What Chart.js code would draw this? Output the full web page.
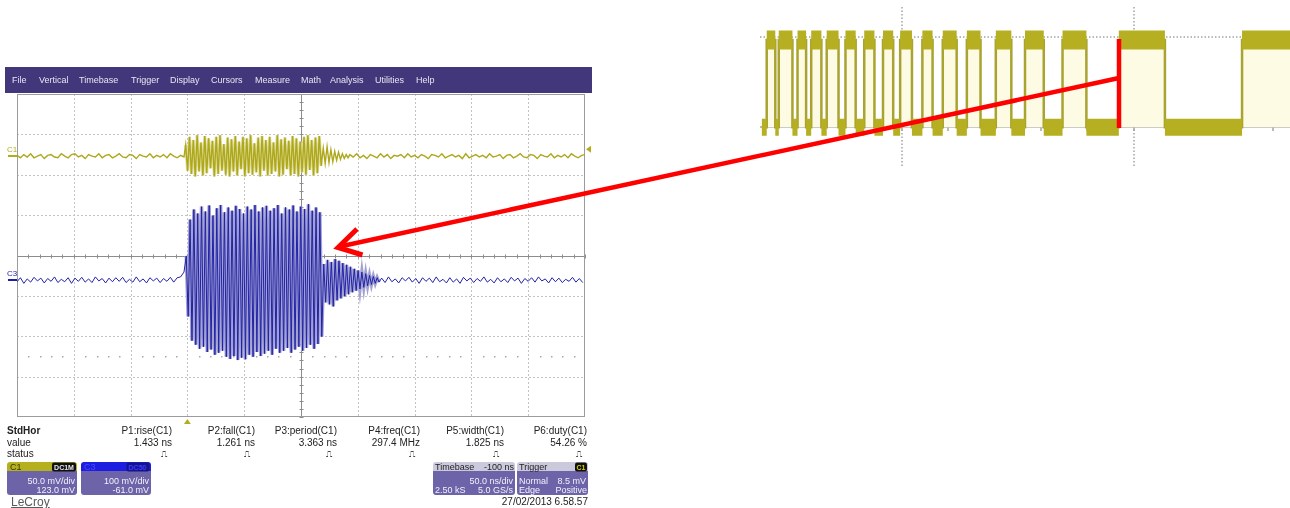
<!DOCTYPE html>
<html>
<head>
<meta charset="utf-8">
<script src="https://cdn.jsdelivr.net/npm/chart.js@4.4.1/dist/chart.umd.min.js"></script>
<style>
body { margin: 0; width: 1290px; height: 508px; background: #fff; position: relative; overflow: hidden;
       font-family: "Liberation Sans", Arial, sans-serif; }
#menu { position: absolute; left: 5px; top: 67px; width: 587px; height: 26px; background: #41377a; }
#scope { position: absolute; left: 5px; top: 90px; }
#zoomview { position: absolute; left: 760px; top: 0px; }
.box { position: absolute; border-radius: 3px; overflow: hidden; }
.hdr { position: absolute; left: 0; top: 0; right: 0; height: 9px; }
.body { position: absolute; left: 0; top: 9px; right: 0; bottom: 0; background: #6c63a8; }
#arrow { position: absolute; left: 0; top: 0; }
</style>
</head>
<body>
<div id="menu"></div>
<canvas id="scope" width="587" height="336"></canvas>
<canvas id="zoomview" width="530" height="170"></canvas>
<svg id="arrow" width="1290" height="508"></svg>
<script>
// ---- scope settings (from the readout) ----
const C1_SCALE = 50, C1_OFFSET = 123;    // mV/div, mV
const C3_SCALE = 100, C3_OFFSET = -61;   // mV/div, mV
const TRIG_LEVEL = 8.5;                  // mV on C1
const T_MIN = -150, T_MAX = 350, T_DIV = 50;   // ns
const NOISE_DT = 3, BURST_DT = 1.68;           // ns between samples

// C1 (yellow) in mV
const c1Pre = [1,-2,2,-1,3,-2,0,2,-3,1, 2,-1,-2,3,0,-2,2,3,-1,1, -3,2,0,-1,3,-2,1,2,-2,0,
  3,-1,-2,2,1,-3,2,0,-1,3, -2,1,-1,2,-2,3,0,-2,1,-1];
const c1Burst = [14,-18,24,-22,20,-25,26,-19,17,-24, 25,-21,22,-15,19,-25,24,-22,26,-18,
  15,-23,23,-25,21,-19,25,-24,18,-16, 24,-25,22,-21,26,-23,16,-20,23,-25,
  25,-18,20,-24,24,-22,17,-19,26,-25, 21,-23,23,-16,19,-24,25,-22,22,-25,
  18,-20,24,-23,26,-17,20,-24,23,-21, 25,-12];
const c1Tail = [10,-9,12,-8,8,-7,6,-5,5,-4,3,-3,2,-2];
const c1Post = [2,-1,3,-2,1,-3,2,0,-2,3, -1,2,-3,1,0,2,-2,3,-1,1, -2,2,0,-3,2,1,-1,3,-2,0,
  2,-1,1,-3,3,-2,0,2,-1,1, -2,3,-1,0,2,-3,1,2,-2,0, 3,-1,-2,2,1,-3,2,0,-1,3,
  -2,1,-1,2,-2,3,0,-2,1,2];

// C3 (blue) in mV
const c3Pre = [-4,6,-8,3,-5,7,-2,5,-7,4, -3,8,-6,2,-4,6,-8,5,-3,7, -5,3,-6,8,-2,4,-7,5,-4,6,
  -3,7,-6,2,-5,8,-4,3,-7,6, -2,5,-6,4,-3,7,-5,6,8,20];
const c3Burst = [60,-90,150,-150,175,-160,165,-170,182,-165, 170,-178,185,-172,160,-185,178,-180,186,-175,
  168,-190,180,-195,172,-188,184,-198,176,-192, 165,-196,182,-185,175,-190,186,-178,170,-188,
  180,-182,184,-175,172,-185,178,-170,186,-180, 165,-175,180,-168,175,-180,185,-172,170,-165,
  182,-175,176,-168,188,-160,172,-170,180,-158, 168,-140];
const c3Ring = [40,-55,50,-60,45,-65,52,-50,48,-45, 42,-40,38,-35,33,-30,28,-26,24,-22,
  20,-18,16,-14,12,-11,9,-8,6,-5];
const c3Post = [5,-6,8,-4,3,-7,6,-2,7,-5, 4,-8,6,-3,5,-6,8,-4,2,-7, 6,-5,3,-8,7,-2,5,-6,4,-3,
  8,-5,2,-7,6,-4,3,-6,7,-2, 5,-8,4,-3,6,-5,8,-2,3,-7, 6,-4,5,-6,2,-3,7,-5,4,-6];

// zoomed inset: edge times (ns) of the digital C1 view, first edge is rising
const zoomEdges = [-5.84,-5.47,-5.32,-4.73,-4.51,-4.14,-3.92,-3.48,-3.25,-2.74,-2.44,-2.00,
  -1.63,-1.19,-0.82,-0.38,-0.08,0.43,0.88,1.32,1.76,2.36,2.80,3.39,4.05,4.72,5.31,6.12,
  6.93,7.96,9.36,11.35,14.68];
const ZOOM_MIN = -6.13, ZOOM_MAX = 16.75, ZOOM_START = -6.05;

// readout texts
const menuItems = ['File','Vertical','Timebase','Trigger','Display','Cursors','Measure','Math','Analysis','Utilities','Help'];
const menuX = [12,39,79,131,170,211,255,301,330,375,416];
const measNames = ['P1:rise(C1)','P2:fall(C1)','P3:period(C1)','P4:freq(C1)','P5:width(C1)','P6:duty(C1)'];
const measValues = ['1.433 ns','1.261 ns','3.363 ns','297.4 MHz','1.825 ns','54.26 %'];
const measRight = [172,255,337,420,504,587];

function put(text, x, y, o = {}) {
  const d = document.createElement('div');
  d.textContent = text;
  const tx = o.align === 'right' ? '-100%' : o.align === 'center' ? '-50%' : '0';
  d.style.cssText = `position:absolute;left:${x}px;top:${y}px;font-size:${o.size || 10}px;line-height:1;` +
    `white-space:nowrap;color:${o.color || '#222'};font-weight:${o.bold ? 'bold' : 'normal'};` +
    `transform:translate(${tx},-50%);` + (o.css || '');
  document.body.appendChild(d);
  return d;
}

// menu bar
menuItems.forEach((m, i) => put(m, menuX[i], 80, { size: 9, color: '#e8e6f2' }));

// measurement table
put('StdHor', 7, 431, { bold: true });
put('value', 7, 443);
put('status', 7, 453.5);
measNames.forEach((n, i) => {
  put(n, measRight[i], 431, { align: 'right' });
  put(measValues[i], measRight[i], 443, { align: 'right' });
  put('\u238D', measRight[i] - 8, 453.5, { align: 'center', size: 9, color: '#444' });
});

function box(left, width, hdrColor) {
  const b = document.createElement('div');
  b.className = 'box';
  b.style.cssText = `left:${left}px;top:462px;width:${width}px;height:33px;`;
  b.innerHTML = `<div class="hdr" style="background:${hdrColor}"></div><div class="body"></div>`;
  document.body.appendChild(b);
}
function tag(text, left, width, bg, fg) {
  return put(text, left + width / 2, 466.5, { align: 'center', size: 7, bold: true, color: fg,
    css: `background:${bg};width:${width}px;text-align:center;border-radius:2px;padding:1px 0;` });
}
const BODY = '#f2f2fa';
// channel boxes
box(7, 70, '#b5b11e');
put('C1', 10, 466.5, { size: 9, color: '#3a3800' });
tag('DC1M', 52, 24, '#111', '#e8e8e8');
put('50.0 mV/div', 75, 480.5, { align: 'right', size: 9, color: BODY });
put('123.0 mV', 75, 489.5, { align: 'right', size: 9, color: BODY });

box(81, 70, '#1e1ee0');
put('C3', 84, 466.5, { size: 9, color: '#4a4aff' });
tag('DC50', 126, 23, '#14148a', '#3a3aff');
put('100 mV/div', 149, 480.5, { align: 'right', size: 9, color: BODY });
put('-61.0 mV', 149, 489.5, { align: 'right', size: 9, color: BODY });

box(433, 82, '#cbc9dc');
put('Timebase', 435, 466.5, { size: 9, color: '#222' });
put('-100 ns', 514, 466.5, { align: 'right', size: 9, color: '#222' });
put('50.0 ns/div', 513, 480.5, { align: 'right', size: 9, color: BODY });
put('2.50 kS', 435, 489.5, { size: 9, color: BODY });
put('5.0 GS/s', 513, 489.5, { align: 'right', size: 9, color: BODY });

box(517, 71, '#cbc9dc');
put('Trigger', 519, 466.5, { size: 9, color: '#222' });
tag('C1', 575, 12, '#111', '#d8d400');
put('Normal', 519, 480.5, { size: 9, color: BODY });
put('8.5 mV', 586, 480.5, { align: 'right', size: 9, color: BODY });
put('Edge', 519, 489.5, { size: 9, color: BODY });
put('Positive', 587, 489.5, { align: 'right', size: 9, color: BODY });

put('LeCroy', 11, 502, { size: 12, color: '#5a5a5a', css: 'text-decoration:underline;' });
put('27/02/2013 6.58.57', 588, 502, { align: 'right', size: 10 });

// ---- build traces ----
function seg(t0, dt, vals, off, sc) {
  return vals.map((v, i) => ({ x: t0 + i * dt, y: (v + off) / sc }));
}
const c1Points = [].concat(
  seg(T_MIN, NOISE_DT, c1Pre, C1_OFFSET, C1_SCALE),
  seg(-1.5, BURST_DT, c1Burst, C1_OFFSET, C1_SCALE),
  seg(119.6, BURST_DT, c1Tail, C1_OFFSET, C1_SCALE),
  seg(143, NOISE_DT, c1Post, C1_OFFSET, C1_SCALE));
const c3Points = [].concat(
  seg(T_MIN, NOISE_DT, c3Pre, C3_OFFSET, C3_SCALE),
  seg(-1, BURST_DT, c3Burst, C3_OFFSET, C3_SCALE),
  seg(120, BURST_DT, c3Ring, C3_OFFSET, C3_SCALE),
  seg(171, NOISE_DT, c3Post, C3_OFFSET, C3_SCALE));
const c1Glow = seg(-1.5, BURST_DT, c1Burst, C1_OFFSET, C1_SCALE);
const c3Glow = [].concat(seg(-1, BURST_DT, c3Burst, C3_OFFSET, C3_SCALE),
  seg(120, BURST_DT, c3Ring, C3_OFFSET, C3_SCALE));

function hline(ctx, x1, y1, x2, y2) { ctx.beginPath(); ctx.moveTo(x1, y1); ctx.lineTo(x2, y2); ctx.stroke(); }

const scopeGrid = {
  id: 'scopeGrid',
  beforeDatasetsDraw(chart) {
    const { ctx, chartArea: a, scales: { x, y } } = chart;
    const tc = (T_MIN + T_MAX) / 2;
    ctx.save();
    ctx.lineWidth = 1;
    ctx.strokeStyle = '#c4c4c4';
    ctx.setLineDash([2, 2]);
    for (let t = T_MIN + T_DIV; t < T_MAX; t += T_DIV) {
      if (t === tc) continue;
      const px = Math.round(x.getPixelForValue(t)) + 0.5;
      hline(ctx, px, a.top, px, a.bottom);
    }
    for (let d = -3; d <= 3; d++) {
      if (d === 0) continue;
      const py = Math.round(y.getPixelForValue(d)) + 0.5;
      hline(ctx, a.left, py, a.right, py);
    }
    ctx.setLineDash([]);
    // centre cross with minor ticks
    ctx.strokeStyle = '#8c8c8c';
    const cx = Math.round(x.getPixelForValue(tc)) + 0.5;
    const cy = Math.round(y.getPixelForValue(0)) + 0.5;
    hline(ctx, a.left, cy, a.right, cy);
    hline(ctx, cx, a.top, cx, a.bottom);
    for (let t = T_MIN; t <= T_MAX; t += T_DIV / 5) {
      const px = Math.round(x.getPixelForValue(t)) + 0.5;
      hline(ctx, px, cy - 2, px, cy + 2);
    }
    for (let i = -20; i <= 20; i++) {
      const py = Math.round(y.getPixelForValue(i / 5)) + 0.5;
      hline(ctx, cx - 2, py, cx + 2, py);
    }
    // dotted row at -2.5 div
    ctx.fillStyle = '#a8a8a8';
    const dy = Math.round(y.getPixelForValue(-2.5));
    for (let t = T_MIN; t <= T_MAX; t += T_DIV / 5) {
      if ((t - T_MIN) % T_DIV === 0) continue;
      ctx.fillRect(Math.round(x.getPixelForValue(t)), dy, 1.5, 1.5);
    }
    ctx.strokeStyle = '#9c9c9c';
    ctx.strokeRect(a.left + 0.5, a.top + 0.5, a.width - 1, a.height - 1);
    ctx.restore();
  }
};

const scopeMarkers = {
  id: 'scopeMarkers',
  afterDatasetsDraw(chart) {
    const { ctx, chartArea: a, scales: { x, y } } = chart;
    ctx.save();
    ctx.font = '8px "Liberation Sans", Arial, sans-serif';
    ctx.textBaseline = 'bottom';
    const chans = [['C1', '#b3ad1c', C1_OFFSET / C1_SCALE], ['C3', '#1c1cb0', C3_OFFSET / C3_SCALE]];
    chans.forEach(([name, col, pos]) => {
      const py = Math.round(y.getPixelForValue(pos));
      ctx.fillStyle = col;
      ctx.fillText(name, a.left - 10, py - 2);
      ctx.fillRect(a.left - 9, py - 1, 9, 2);
    });
    ctx.fillStyle = '#b3ad1c';
    const ty = y.getPixelForValue((TRIG_LEVEL + C1_OFFSET) / C1_SCALE);
    ctx.beginPath();
    ctx.moveTo(a.right + 1, ty); ctx.lineTo(a.right + 6, ty - 3.5); ctx.lineTo(a.right + 6, ty + 3.5);
    ctx.closePath(); ctx.fill();
    const tx = x.getPixelForValue(0);
    ctx.beginPath();
    ctx.moveTo(tx, a.bottom + 2); ctx.lineTo(tx - 3.5, a.bottom + 7); ctx.lineTo(tx + 3.5, a.bottom + 7);
    ctx.closePath(); ctx.fill();
    ctx.restore();
  }
};

const lineDefaults = { pointRadius: 0, tension: 0, fill: false };

new Chart(document.getElementById('scope'), {
  type: 'line',
  data: {
    datasets: [
      { ...lineDefaults, label: 'C1', data: c1Points, borderColor: '#aea81c', borderWidth: 1.4 },
      { ...lineDefaults, label: 'C3', data: c3Points, borderColor: '#2222a8', borderWidth: 1 },
      { ...lineDefaults, label: 'C1 persist', data: c1Glow, borderColor: '#e0dd9c', borderWidth: 3 },
      { ...lineDefaults, label: 'C3 persist', data: c3Glow, borderColor: '#a2a2d2', borderWidth: 3.5 }
    ]
  },
  options: {
    responsive: false,
    animation: false,
    events: [],
    layout: { padding: { left: 12, right: 7, top: 4, bottom: 9 } },
    scales: {
      x: { type: 'linear', min: T_MIN, max: T_MAX, display: false },
      y: { type: 'linear', min: -4, max: 4, display: false }
    },
    plugins: { legend: { display: false }, tooltip: { enabled: false } }
  },
  plugins: [scopeGrid, scopeMarkers]
});

// ---- zoomed inset ----
const stepPts = [{ x: ZOOM_START, y: 0 }];
zoomEdges.forEach((e, i) => stepPts.push({ x: e, y: i % 2 === 0 ? 1 : 0 }));
stepPts.push({ x: ZOOM_MAX, y: stepPts[stepPts.length - 1].y });
const highBand = [], lowBand = [];
for (let i = 0; i < stepPts.length - 1; i++) {
  const L = stepPts[i].y, band = L === 1 ? highBand : lowBand;
  band.push({ x: stepPts[i].x, y: L }, { x: stepPts[i + 1].x, y: L }, { x: stepPts[i + 1].x, y: null });
}

const zoomGrid = {
  id: 'zoomGrid',
  beforeDatasetsDraw(chart) {
    const { ctx, chartArea: a, scales: { x, y } } = chart;
    ctx.save();
    ctx.strokeStyle = '#a4a4a4';
    ctx.lineWidth = 1.5;
    ctx.setLineDash([1.5, 2]);
    [0, 10].forEach(t => { const px = Math.round(x.getPixelForValue(t)); hline(ctx, px, a.top + 7, px, a.bottom - 3); });
    const hy = Math.round(y.getPixelForValue(1.03));
    hline(ctx, a.left, hy, a.right, hy);
    ctx.setLineDash([]);
    const by = Math.round(y.getPixelForValue(0));
    hline(ctx, a.left, by, a.right, by);
    for (let t = 0; t <= 16; t += 2) {
      const px = Math.round(x.getPixelForValue(t));
      hline(ctx, px, by - 4, px, by + 4);
    }
    ctx.restore();
  }
};

new Chart(document.getElementById('zoomview'), {
  type: 'line',
  data: {
    datasets: [
      { ...lineDefaults, label: 'high', data: highBand, borderColor: '#b5af21', borderWidth: 19, borderCapStyle: 'butt', spanGaps: false },
      { ...lineDefaults, label: 'low', data: lowBand, borderColor: '#b5af21', borderWidth: 17, borderCapStyle: 'butt', spanGaps: false },
      { ...lineDefaults, label: 'C1 zoom', data: stepPts, stepped: true, borderColor: '#a9a331', borderWidth: 2.5,
        fill: { value: 0 }, backgroundColor: '#fefbe4' }
    ]
  },
  options: {
    responsive: false,
    animation: false,
    events: [],
    layout: { padding: 0 },
    scales: {
      x: { type: 'linear', min: ZOOM_MIN, max: ZOOM_MAX, display: false },
      y: { type: 'linear', min: -0.49, max: 1.46, display: false }
    },
    plugins: { legend: { display: false }, tooltip: { enabled: false } }
  },
  plugins: [zoomGrid]
});

// red call-out arrow
document.getElementById('arrow').innerHTML =
  '<line x1="1119" y1="78" x2="340" y2="246.5" stroke="#f00" stroke-width="4.5"/>' +
  '<polyline points="357,229 338,247.5 362.5,255" fill="none" stroke="#f00" stroke-width="5" stroke-linejoin="miter"/>' +
  '<line x1="1119" y1="39" x2="1119" y2="128" stroke="#f00" stroke-width="4.5"/>';
</script>
</body>
</html>
